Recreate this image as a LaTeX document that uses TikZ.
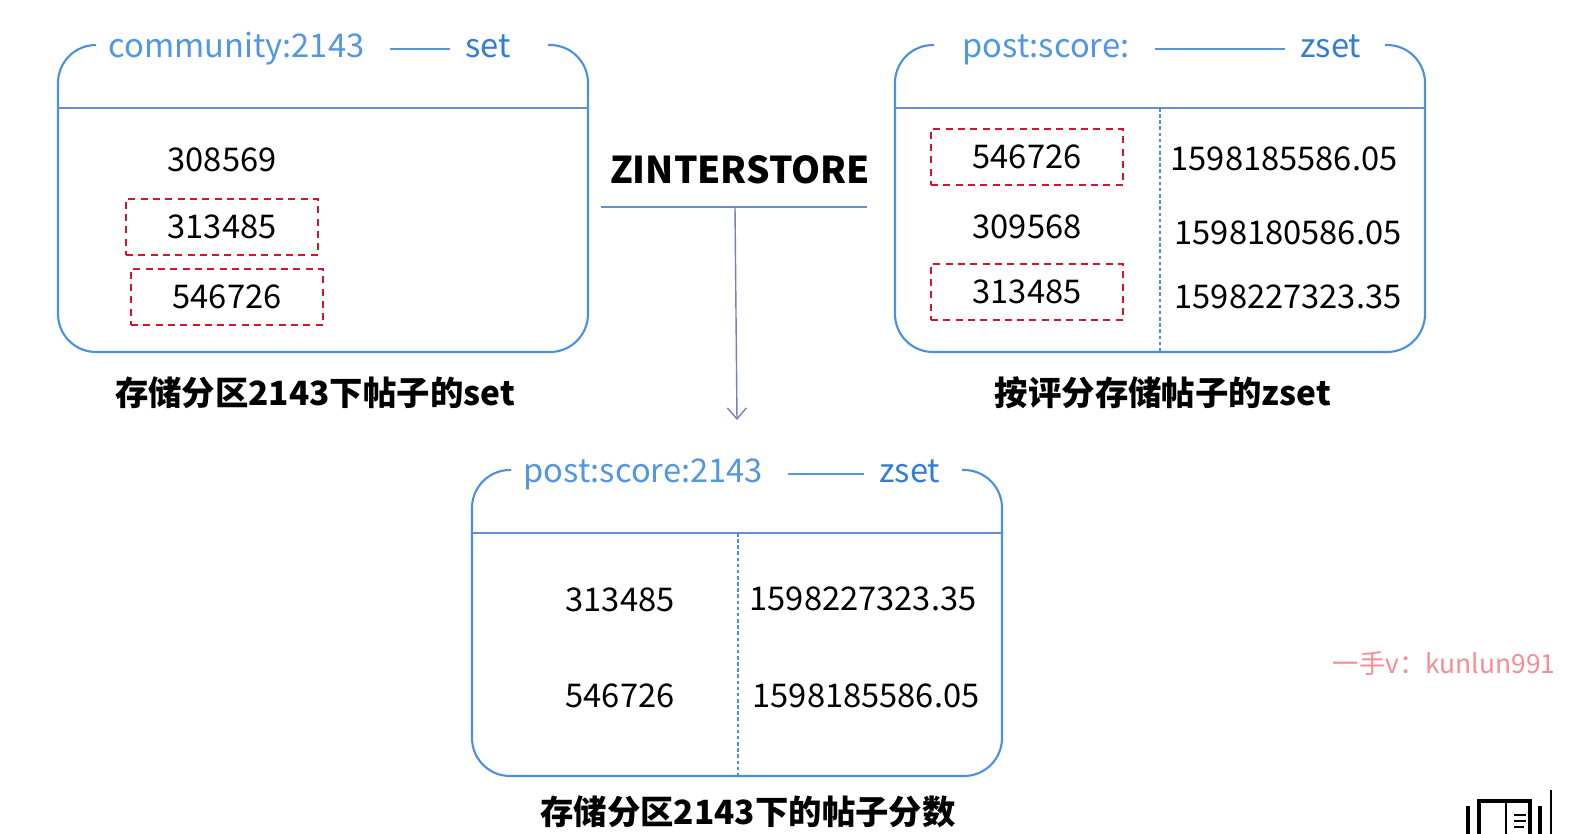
\documentclass[tikz,border=0pt]{standalone}
\usepackage{fontspec}
\setmainfont{Noto Sans CJK SC}
\usetikzlibrary{arrows.meta}
\definecolor{boxblue}{RGB}{74,144,226}
\definecolor{ruleblue}{RGB}{105,140,210}
\definecolor{titleblue}{RGB}{82,150,228}
\definecolor{kindblue}{RGB}{50,125,215}
\definecolor{hitred}{RGB}{210,20,45}
\definecolor{arrowgray}{RGB}{115,130,185}
\definecolor{markpink}{RGB}{246,140,150}

\begin{document}
\begin{tikzpicture}[
    x=0.02cm, y=-0.02cm,
    frame/.style={draw=boxblue,line width=1.2pt,rounded corners=0.76cm},
    rule/.style={draw=ruleblue,line width=0.8pt},
    column/.style={draw=boxblue,line width=0.6pt,dash pattern=on 2pt off 1.5pt},
    title/.style={text=titleblue,font=\fontsize{18.6}{20}\selectfont,inner sep=0pt,text height=14pt,text depth=4pt},
    kind/.style={title,text=kindblue},
    dashline/.style={draw=titleblue,line width=1.1pt,shorten <=0.5cm,shorten >=0.3cm},
    key/.style={font=\fontsize{18.6}{20}\selectfont},
    hit/.style={key,draw=hitred,dash pattern=on 4pt off 3pt,line width=1pt,minimum width=3.84cm,minimum height=1.12cm},
    caption/.style={font=\fontsize{19}{22}\selectfont\bfseries},
    >={Straight Barb[length=2.2mm,width=3.8mm]}
]
\useasboundingbox (0,0) rectangle (1573,834);

% set of community 2143
\draw[frame] (96,45) -- (58,45) -- (58,352) -- (588,352) -- (588,45) -- (548,45);
\draw[rule] (58,108) -- (588,108);
\node[title,anchor=base west] (settitle) at (108,58) {community:2143};
\node[kind,anchor=base west] (setkind) at (465,58) {set};
\draw[dashline] (settitle.east) -- (setkind.west);
\node[key] (s1) at (222,160) {308569};
\node[hit] (s2) at (222,227) {313485};
\node[hit] (s3) at (227,297) {546726};
\node[caption] (setcap) at (315,393) {存储分区2143下帖子的set};

% zset of scores
\draw[frame] (934,45) -- (895,45) -- (895,352) -- (1425,352) -- (1425,45) -- (1385,45);
\draw[rule] (895,108) -- (1425,108);
\draw[column] (1160,108) -- (1160,352);
\node[title,anchor=base west] (zsettitle) at (962,58) {post:score:};
\node[kind,anchor=base west] (zsetkind) at (1300,58) {zset};
\draw[dashline] (zsettitle.east) -- (zsetkind.west);
\node[hit] (z1) at (1027,157) {546726};
\node[key] (z2) at (1027,227) {309568};
\node[hit] (z3) at (1027,292) {313485};
\node[key] (v1) at (1284,159) {1598185586.05};
\node[key] (v2) at (1288,233) {1598180586.05};
\node[key] (v3) at (1288,297) {1598227323.35};
\node[caption] (zsetcap) at (1163,393) {按评分存储帖子的zset};

% intersection
\node[font=\fontsize{21}{24}\selectfont\bfseries] (op) at (740,170) {ZINTERSTORE};
\coordinate (opl) at (601,207);
\coordinate (opr) at (867,207);
\coordinate (opm) at (735,207);
\coordinate (opend) at (737,420);
\draw[rule] (opl) -- (opr);
\draw[->,draw=arrowgray,line width=0.8pt] (opm) -- (opend);

% result zset
\draw[frame] (511,470) -- (472,470) -- (472,776) -- (1002,776) -- (1002,470) -- (962,470);
\draw[rule] (472,533) -- (1002,533);
\draw[column] (738,533) -- (738,776);
\node[title,anchor=base west] (restitle) at (523,483) {post:score:2143};
\node[kind,anchor=base west] (reskind) at (879,483) {zset};
\draw[dashline] (restitle.east) -- (reskind.west);
\node[key] (r1) at (620,600) {313485};
\node[key] (r2) at (620,696) {546726};
\node[key] (w1) at (863,599) {1598227323.35};
\node[key] (w2) at (866,696) {1598185586.05};
\node[caption] (rescap) at (748,812) {存储分区2143下的帖子分数};

% watermark and corner icon
\node[text=markpink,font=\fontsize{15}{16}\selectfont] (mark) at (1444,663) {一手v：kunlun991};
\draw[line width=2.2pt] (1468,806) -- (1468,834);
\draw[line width=2.2pt] (1540,806) -- (1540,834);
\draw[line width=2.2pt] (1479,834) -- (1479,801) -- (1530,801) -- (1530,834);
\draw[line width=1.6pt] (1506,801) -- (1506,834);
\draw[line width=1.4pt] (1514,815) -- (1526,815) (1514,821) -- (1526,821) (1514,827) -- (1524,827);
\draw[line width=0.6pt] (1551,790) -- (1551,834);
\end{tikzpicture}
\end{document}
